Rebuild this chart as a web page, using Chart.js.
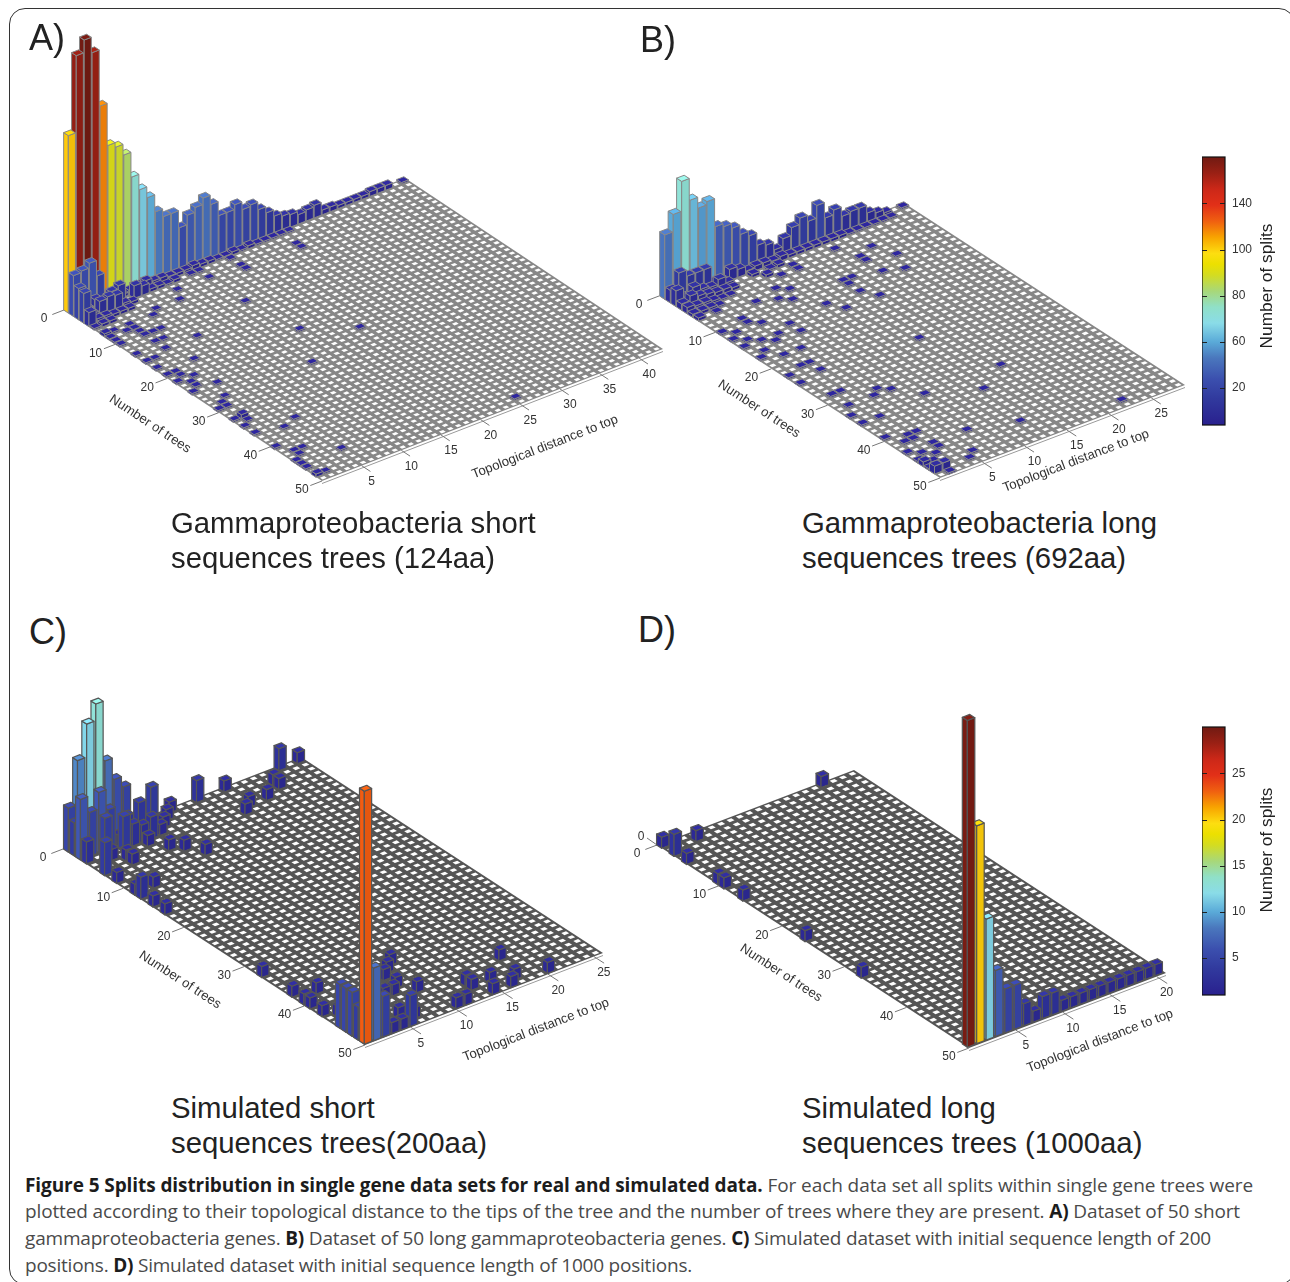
<!DOCTYPE html>
<html><head><meta charset="utf-8">
<script src="https://cdn.jsdelivr.net/npm/chart.js@4"></script>
<style>
html,body{margin:0;padding:0;background:#fff;width:1290px;height:1282px;overflow:hidden;position:relative}
canvas{position:absolute}
#frame{position:absolute;left:9px;top:8px;width:1286px;height:1277px;border:1.5px solid #333;border-radius:16px;box-sizing:border-box}
.t{position:absolute;white-space:nowrap;font-family:"Liberation Sans",sans-serif;color:#222}
.letter{font-size:36px;line-height:40px}
.title{font-size:29.3px;line-height:34px}
.cap{font-family:"Open Sans",sans-serif;font-size:19px;line-height:24px;color:#4a4a4a;left:25px}
.cap b{color:#1c1c1c;font-weight:700}
</style></head><body>
<div id="frame"></div>
<script>
// ---------- data (tree, distance, number of splits) ----------
const treeTicks=[0,10,20,30,40,50];
const distTicksAB=[5,10,15,20,25,30,35,40];
const distTicksB=[5,10,15,20,25];
const distTicksC=[5,10,15,20,25];
const distTicksD=[5,10,15,20];
const colorbarTicksAB=['20','60','80','100','140'];
const colorbarTicksCD=['5','10','15','20','25'];
const colorStops=[0,.1,.17,.25,.31,.38,.44,.5,.56,.6,.64,.7,.76,.82,.88,.94,1];
const colorValues=['#29208e','#313a9e','#3b4fae','#4a77bd','#5aaad8','#8adce8','#90e0c8','#a8d878','#d4dc20','#ece000','#fdde10','#f8a400','#f06010','#e23018','#cc2818','#9a2014','#701a12'];

const backRowA=[113,162,170,160,124,97,94,87,71,61,54,43,38,38,27,33,36,40,34,25,25,28,23,24,19,15,11,9,8,6,7,8,3,3,2,2,2,2,3,3,3,0,1];
const secondRowA=[26,27,30,20,2,4,2,3,4,5,3,3,2,2,2,3,2,2,1,1,2,1,2,1,1,1,1,1];
const scatterA=[[3,1,20],[4,1,19],[5,1,9],[3,3,9],[4,3,10],[4,4,11],[3,5,10],[4,5,10],[3,6,12],[3,8,8],[3,9,6],[3,2,5],[3,4,6],[4,2,4],[5,2,3],[5,3,3],[5,4,2],[6,2,2],[4,6,3],[5,6,2],[4,7,2],[5,5,2],[3,10,2],[3,11,2],[3,12,1],[3,13,2],[3,15,1],[3,16,1],
[6,1,1],[6,3,2],[8,2,1],[8,1,2],[8,4,1],[9,1,1],[10,1,1],[11,1,1],[9,4,1],[9,3,1],[10,4,1],[11,4,1],[11,5,1],[11,6,1],[7,8,1],[5,12,1],[7,11,1],[12,16,1],[15,8,1],[21,17,1],[28,14,1],[13,4,1],[13,5,1],[15,4,1],[14,1,1],[16,1,1],[16,2,1],[19,5,1],[18,1,1],[20,1,1],[20,2,1],[21,2,1],[22,3,1],[22,1,1],[23,2,1],[24,2,1],[25,1,1],[25,4,1],[28,3,1],[29,2,1],[30,2,1],[30,1,1],[33,2,3],[33,1,1],[34,2,1],[35,1,1],[37,1,1],[37,6,1],[38,4,1],[41,1,1],[43,3,1],[43,2,1],[44,2,1],[45,1,1],[46,1,1],[47,1,1],[49,1,2],[49,2,1],[46,6,1],[49,26,1],[25,22,1],[6,27,1],[5,27,1],[5,20,1],[6,20,1],[3,20,1],[5,16,1],[8,7,1]];

const backRowB=[41,52,71,57,50,52,34,32,29,23,20,12,10,5,10,15,19,15,23,13,16,10,11,11,6,4,2,0,1];
const secondRowB=[8,17,13,13,13,3,2,7,5,2,3,3,2,3,2,2,2,2,2,2,2,1,1,1,1,1,1];
const scatterB=[[3,1,10],[4,2,7],[3,3,8],[3,4,5],[3,2,4],[3,6,7],[3,5,4],[3,7,3],[4,1,4],[4,3,5],[4,4,4],[4,5,3],[4,6,3],[4,7,2],[5,1,4],[5,2,3],[5,3,3],[5,4,2],[5,5,1],[5,6,1],[6,1,2],[6,2,2],[6,3,2],[6,4,1],[7,1,2],[7,3,1],[4,11,2],[3,10,2],[3,12,1],[3,13,2],[4,14,1],
[4,19,1],[6,22,1],[9,23,1],[7,20,1],[8,20,1],[12,22,1],[11,20,1],[10,16,1],[10,17,1],[11,16,1],[13,16,1],[15,17,1],[13,12,1],[15,13,1],[5,12,1],[5,14,1],[7,10,1],[8,11,1],[9,9,1],[10,10,1],[8,7,1],[14,7,1],[16,7,1],[15,5,1],[12,5,1],[11,4,1],[10,4,1],[16,4,1],[15,3,1],[14,2,1],[11,1,1],[13,1,1],[15,1,1],[12,2,1],[17,2,1],[18,1,1],[19,3,1],[19,5,1],[22,3,1],[22,4,1],[24,4,1],[23,1,1],[25,1,1],[29,2,1],[29,3,1],[31,6,1],[32,7,1],[32,5,1],[32,2,1],[34,1,1],[36,3,1],[36,1,1],[40,1,1],[41,3,1],[25,15,1],[35,18,1],[38,14,1],[35,9,1],[49,23,1],[46,13,1],[44,8,1],[41,4,1],[48,6,1],[49,5,1],[42,3,1],[42,2,1],[44,4,1],[45,4,1],[44,1,1],[45,2,1],[46,3,1],[46,1,1],[47,1,3],[47,2,1],[49,2,5],[50,2,1],[49,1,5],[48,2,1],[48,1,1]];

const backRowC=[4,8,11,12.5,7,5,4,0,0,3,0,1,0,0,2,0,0,1,0,0,0,0,0,2,0,1];
const scatterC=[[2,1,3],[3,1,5.5],[4,1,2],[3,2,4],[3,3,5.5],[7,1,3],[4,3,3.5],[3,4,3.6],[4,5,3],[4,6,2],[2,8,2.6],[3,6,2.4],[4,7,1.6],[4,8,2],[5,7,1],[4,9,1],[2,11,1],[7,8,1],[8,9,1],[10,10,1],[7,4,1],[6,4,1],[9,1,1],[12,3,1],[13,1,2],[12,1,1],[15,1,1],[17,1,1],[3,5,1],[5,3,1],[6,17,1],[5,18,1],[5,20,1],[4,22,1],[3,22,1],[3,10,1],
[33,1,1],[38,1,1],[39,3,1],[40,1,1],[41,1,1],[43,1,1],[50,1,23],[50,2,6.6],[50,3,3.7],[50,4,1],[50,5,1],[50,6,2.8],[49,7,1],[48,6,1],[44,8,1],[43,9,1],[45,10,1],[44,7,1],[39,11,1],[40,10,1],[41,9,1],[50,11,1],[50,12,1],[48,14,1],[47,14,1],[48,16,1],[50,15,1],[45,19,1],[50,17,1],[49,18,1],[50,21,1],[46,1,4],[47,1,4],[48,1,4],[49,1,3],[47,2,3],[46,3,2],[44,3,1],[44,2,1],[46,2,1.5]];

const frontRowD=[29.7,19.8,11,6,4,4,2,1,2,2,1,1,1,1,1,1,1,1,1,1,1];
const scatterD=[[1,1,1],[3,1,2],[5,1,1],[2,4,1],[1,18,1],[10,1,1],[11,1,1],[14,1,1],[24,1,1],[33,1,1]];

// ---------- helpers that turn the lists into marks ----------
function fromRow(tree,row){return row.map((v,i)=>[tree,i+1,v]).filter(r=>r[2]>0);}
const marksA=[...fromRow(1,backRowA),...fromRow(2,secondRowA),...scatterA];
const marksB=[...fromRow(1,backRowB),...fromRow(2,secondRowB),...scatterB];
const marksC=[...fromRow(1,backRowC),...scatterC];
const marksD=[...fromRow(50,frontRowD),...scatterD];

function hex(c){return [1,3,5].map(i=>parseInt(c.substr(i,2),16));}
function cmap(f){f=Math.max(0,Math.min(1,f));let i=0;while(i<colorStops.length-2&&f>colorStops[i+1])i++;
 const k=(f-colorStops[i])/(colorStops[i+1]-colorStops[i]),a=hex(colorValues[i]),b=hex(colorValues[i+1]);
 return a.map((v,j)=>v+(b[j]-v)*k);}
function rgb(c,m){return 'rgb('+c.map(v=>Math.min(255,Math.round(v*m))).join(',')+')';}

const panels=[
 {id:'a',box:[20,20,660,490],o:[64,310],tEnd:[258,171],dEnd:[341,-132],nd:43,zs:1.57,vmax:170,line:'#878787',marks:marksA,dticks:distTicksAB,
  extra:[],nt:[150,424,33.5],dt:[545,447,-21.2],inset:.05,lw:1,bx:-1},
 {id:'b',box:[630,150,570,350],o:[659,296],tEnd:[281,182],dEnd:[245,-93],nd:29,zs:1.57,vmax:170,line:'#878787',marks:marksB,dticks:distTicksB,
  extra:[],nt:[759,409,33],dt:[1076,461,-20.8],inset:.05,lw:1,bx:0},
 {id:'c',box:[20,680,600,390],o:[63,849],tEnd:[302,196],dEnd:[238,-92],nd:26,zs:11,vmax:30,line:'#555555',marks:marksC,dticks:distTicksC,
  extra:[],nt:[180,980,33],dt:[536,1030,-21],inset:.1,lw:1.2,bx:-1},
 {id:'d',box:[630,700,560,385],o:[657,845],tEnd:[312,203],dEnd:[197,-75],nd:21,zs:11,vmax:30,line:'#555555',marks:marksD,dticks:distTicksD,
  extra:[{text:'0',tick:[[647,838],[657,845]],at:[641,837]}],nt:[781,973,33],dt:[1100,1041,-21],inset:.1,lw:1.2,bx:-2}
];
const NT=50;

function proj(p,t,d,v){return {x:p.o[0]+t/NT*p.tEnd[0]+d/p.nd*p.dEnd[0], y:p.o[1]+t/NT*p.tEnd[1]+d/p.nd*p.dEnd[1]-(v||0)*p.zs};}

const bar3d={id:'bar3d',beforeDatasetsDraw(chart){
 const p=chart.options.plugins.bar3d.panel,c=chart.ctx,sx=chart.scales.x,sy=chart.scales.y;
 const P=(t,d,v)=>{const q=proj(p,t,d,v);return [sx.getPixelForValue(q.x),sy.getPixelForValue(q.y)];};
 const B=(t,d,v)=>{const q=proj(p,t,d,v);return [sx.getPixelForValue(q.x+p.bx),sy.getPixelForValue(q.y)];};
 const poly=(pts,fill,stroke,lw)=>{c.beginPath();pts.forEach((q,i)=>i?c.lineTo(q[0],q[1]):c.moveTo(q[0],q[1]));c.closePath();
  if(fill){c.fillStyle=fill;c.fill();} if(stroke){c.strokeStyle=stroke;c.lineWidth=lw;c.lineJoin='round';c.stroke();}};
 poly([P(0,0),P(NT,0),P(NT,p.nd),P(0,p.nd)],p.line);
 const g=.24;
 for(let t=0;t<NT;t++)for(let d=0;d<p.nd;d++)
   poly([P(t+g,d+g),P(t+1-g,d+g),P(t+1-g,d+1-g),P(t+g,d+1-g)],'#fff');
 const a=P(NT,0),b=P(NT,p.nd);
 c.beginPath();c.moveTo(a[0],a[1]+2.5);c.lineTo(b[0],b[1]+2.5);c.strokeStyle='#9a9a9a';c.lineWidth=1;c.stroke();
 c.strokeStyle='#777';c.lineWidth=1;c.fillStyle='#333';c.font='12px "Liberation Sans"';c.textAlign='center';c.textBaseline='middle';
 treeTicks.forEach(t=>{const q=P(t,0),r=P(t,-1.3*9/(p.dEnd[0]/p.nd));
   c.beginPath();c.moveTo(q[0],q[1]);c.lineTo(r[0],r[1]);c.stroke();
   c.fillText(String(t),q[0]-20,q[1]+9);});
 p.dticks.forEach(d=>{const q=P(NT,d),r=P(NT+1.7,d);
   c.beginPath();c.moveTo(q[0],q[1]);c.lineTo(r[0],r[1]);c.stroke();
   c.fillText(String(d),q[0]+10,q[1]+16);});
 p.extra.forEach(e=>{c.beginPath();c.moveTo(sx.getPixelForValue(e.tick[0][0]),sy.getPixelForValue(e.tick[0][1]));c.lineTo(sx.getPixelForValue(e.tick[1][0]),sy.getPixelForValue(e.tick[1][1]));c.stroke();
   c.fillText(e.text,sx.getPixelForValue(e.at[0]),sy.getPixelForValue(e.at[1]));});
 const lab=(txt,spec)=>{c.save();c.translate(sx.getPixelForValue(spec[0]),sy.getPixelForValue(spec[1]));c.rotate(spec[2]*Math.PI/180);c.font='13.2px "Liberation Sans"';c.fillStyle='#333';c.fillText(txt,0,0);c.restore();};
 lab('Number of trees',p.nt);lab('Topological distance to top',p.dt);
 const pts=chart.data.datasets[0].data.slice().sort((m,n)=>m.tree-n.tree||n.dist-m.dist);
 const w=p.inset,lw=p.lw;
 pts.forEach(m=>{
  const t0=m.tree-1+w,t1=m.tree-w,d0=m.dist-1+w,d1=m.dist-w,v=m.splits;
  const col=cmap(v/p.vmax);
  poly([B(t0,d0,0),B(t1,d0,0),B(t1,d0,v),B(t0,d0,v)],rgb(col,1.02),p.line,lw);
  poly([B(t1,d0,0),B(t1,d1,0),B(t1,d1,v),B(t1,d0,v)],rgb(col,.96),p.line,lw);
  poly([B(t0,d0,v),B(t1,d0,v),B(t1,d1,v),B(t0,d1,v)],rgb(col,1.12),p.line,lw);
 });
}};

panels.forEach(p=>{
 const cv=document.createElement('canvas');const [l,t,w,h]=p.box;
 cv.width=w;cv.height=h;cv.style.left=l+'px';cv.style.top=t+'px';cv.style.width=w+'px';cv.style.height=h+'px';cv.id='panel-'+p.id;
 document.body.appendChild(cv);
 new Chart(cv,{type:'scatter',plugins:[bar3d],
  data:{datasets:[{label:'Number of splits',pointRadius:0,showLine:false,
    data:p.marks.map(m=>{const q=proj(p,m[0]-.5,m[1]-.5,0);return {x:q.x,y:q.y,tree:m[0],dist:m[1],splits:m[2]};})}]},
  options:{responsive:false,animation:false,events:[],layout:{padding:0},
   scales:{x:{type:'linear',display:false,min:l,max:l+w},y:{type:'linear',display:false,min:t,max:t+h,reverse:true}},
   plugins:{legend:{display:false},tooltip:{enabled:false},bar3d:{panel:p}}}});
});

// ---------- colour bars ----------
function colorbar(id,top,labels){
 const cv=document.createElement('canvas');cv.id=id;
 const w=60,h=268+10;cv.width=w;cv.height=h;cv.style.left='1202px';cv.style.top=(top-5)+'px';cv.style.width=w+'px';cv.style.height=h+'px';
 document.body.appendChild(cv);
 const lo=.2,hi=6.02;
 new Chart(cv,{type:'bar',
  data:{labels:[''],datasets:[{data:[[lo,hi]],barPercentage:1,categoryPercentage:1,
   backgroundColor(ctx){const a=ctx.chart.chartArea;if(!a)return '#000';
     const g=ctx.chart.ctx.createLinearGradient(0,a.bottom,0,a.top);colorStops.forEach((s,i)=>g.addColorStop(s,colorValues[i]));return g;}}]},
  options:{responsive:false,animation:false,events:[],layout:{padding:{top:5,bottom:5,left:0,right:0}},
   scales:{x:{display:false},
    y:{position:'right',min:lo,max:hi,afterBuildTicks(s){s.ticks=[1,2,3,4,5].map(v=>({value:v}));},
     afterFit(s){s.width=37;s.paddingTop=0;s.paddingBottom=0;},
     grid:{color:'#222',drawTicks:false,lineWidth:1,z:1},border:{display:false,dash:[5,13]},
     ticks:{padding:7,color:'#333',font:{family:'"Liberation Sans"',size:12},callback(v){return labels[Math.round(v)-1];}}}},
   plugins:{legend:{display:false},tooltip:{enabled:false}}},
  plugins:[{id:'frame',afterDraw(ch){const a=ch.chartArea,c=ch.ctx;c.strokeStyle='#111';c.lineWidth=1.2;c.strokeRect(a.left,a.top,a.right-a.left,a.bottom-a.top);}}]});
}
colorbar('cbar-ab',157,colorbarTicksAB);
colorbar('cbar-cd',727,colorbarTicksCD);

// ---------- page text ----------
function text(cls,x,y,html,target){const e=document.createElement('div');e.className='t '+cls;e.style.left=x+'px';e.style.top=y+'px';e.innerHTML=html;document.body.appendChild(e);
 if(target){const wd=e.getBoundingClientRect().width;const n=e.textContent.length;e.style.letterSpacing=((target-wd)/n)+'px';}
 return e;}
text('letter',29,18,'A)');text('letter',640,20,'B)');text('letter',29,612,'C)');text('letter',638,610,'D)');
[[171,506,'Gammaproteobacteria short'],[171,541,'sequences trees (124aa)'],[802,506,'Gammaproteobacteria long'],[802,541,'sequences trees (692aa)'],
 [171,1091,'Simulated short'],[171,1126,'sequences trees(200aa)'],[802,1091,'Simulated long'],[802,1126,'sequences trees (1000aa)']].forEach(r=>text('title',r[0],r[1],r[2]));
[[1173,'<b>Figure 5 Splits distribution in single gene data sets for real and simulated data.</b> For each data set all splits within single gene trees were',1228],
 [1199,'plotted according to their topological distance to the tips of the tree and the number of trees where they are present. <b>A)</b> Dataset of 50 short',1215],
 [1226,'gammaproteobacteria genes. <b>B)</b> Dataset of 50 long gammaproteobacteria genes. <b>C)</b> Simulated dataset with initial sequence length of 200',1186],
 [1253,'positions. <b>D)</b> Simulated dataset with initial sequence length of 1000 positions.',667]].forEach(r=>text('cap',25,r[0],r[1],r[2]));
[[286],[850]].forEach(r=>{const e=text('',1266,r[0],'Number of splits');e.style.fontSize='17.3px';e.style.color='#222';e.style.transform='translate(-50%,-50%) rotate(-90deg)';});
</script>
</body></html>
